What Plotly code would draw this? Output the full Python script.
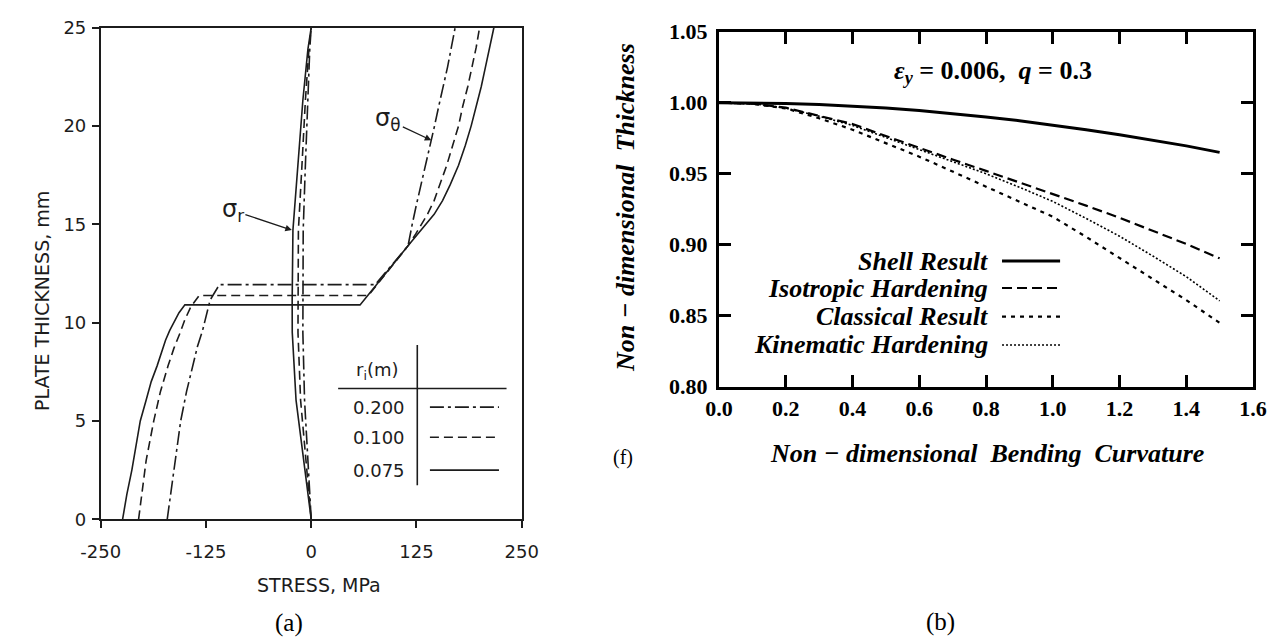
import plotly.graph_objects as go

# ---------------- Panel (a): stresses through plate thickness ----------------
radius_labels = ["0.200", "0.100", "0.075"]

# hoop stress sigma_theta (MPa) vs plate thickness (mm)
hoop_r200_stress = [-171, -167, -161, -155, -148, -141, -135, -129, -124, -120, -109,
                    76, 115, 117.5, 120, 125, 130.5, 136, 141, 146.5, 151.5, 157, 162, 166.5, 171]
hoop_r200_thick = [0, 1.3, 3.2, 5.0, 6.5, 7.77, 8.8, 9.6, 10.4, 11.15, 11.93,
                   11.93, 13.9, 14.5, 15, 16, 17, 18, 19, 20, 21, 22, 23, 24, 25]
hoop_r100_stress = [-205, -201, -196, -187, -179, -170, -163, -156, -150, -143, -133,
                    68, 115, 124, 131, 138, 146, 153, 161, 168, 175, 180, 186, 191, 196, 200]
hoop_r100_thick = [0, 1.3, 3.0, 5, 6.5, 7.8, 8.7, 9.45, 10.15, 10.8, 11.38,
                   11.38, 13.9, 14.5, 15, 15.5, 16.2, 17, 18, 19, 20, 21, 22, 23, 24, 25]
hoop_r075_stress = [-224, -219, -213, -208, -203, -196, -190, -183, -178, -173, -168, -163, -157, -150,
                    58, 115, 127, 137, 146, 156, 165, 175, 183, 190, 196, 202, 207, 212, 217]
hoop_r075_thick = [0, 1.25, 2.5, 3.75, 5, 6.06, 7, 7.8, 8.5, 9.1, 9.6, 10.0, 10.5, 10.9,
                   10.9, 13.9, 14.5, 15, 15.5, 16.2, 17, 18, 19, 20, 21, 22, 23, 24, 25]

# radial stress sigma_r (MPa) vs plate thickness (mm)
radial_thick = [0, 1.3, 2.66, 6.06, 9.5, 11.15, 14.7, 17.9, 21.3, 23.9, 25]
radial_r075 = [0, -3.9, -8, -18, -22.5, -22.6, -21.7, -15.8, -9.9, -3.9, 0]
radial_r100 = [0, -2.7, -5.6, -12.6, -15.7, -15.8, -15.2, -11.1, -6.9, -2.7, 0]
radial_r200 = [0, -1.7, -3.5, -7.9, -9.9, -9.9, -9.5, -7.0, -4.4, -1.7, 0]

stress_ticks = [-250, -125, 0, 125, 250]
stress_ticktext = ["-250", "-125", "0", "125", "250"]
thick_ticks = [0, 5, 10, 15, 20, 25]

# ---------------- Panel (b): thickness vs bending curvature ----------------
curvature = [0, 0.1, 0.2, 0.3, 0.4, 0.5, 0.6, 0.7, 0.8, 0.9, 1.0, 1.1, 1.2, 1.3, 1.4, 1.5]
shell_result = [1.000, 1.000, 0.9995, 0.9988, 0.9977, 0.9962, 0.9945, 0.9924, 0.9900,
                0.9873, 0.9843, 0.9810, 0.9775, 0.9737, 0.9696, 0.9650]
isotropic_hardening = [1.000, 0.9993, 0.9965, 0.991, 0.985, 0.9765, 0.968, 0.960, 0.952,
                       0.944, 0.936, 0.9275, 0.919, 0.910, 0.9005, 0.8904]
classical_result = [1.000, 0.9993, 0.996, 0.989, 0.981, 0.9715, 0.962, 0.9515, 0.941,
                    0.9305, 0.9197, 0.9055, 0.8906, 0.8755, 0.861, 0.845]
kinematic_hardening = [1.000, 0.9993, 0.9962, 0.9905, 0.984, 0.9755, 0.9665, 0.9585, 0.950,
                       0.9405, 0.9305, 0.9185, 0.906, 0.892, 0.8775, 0.8605]
legend_names = ["Shell Result", "Isotropic Hardening", "Classical Result", "Kinematic Hardening"]

INK = "#1c1c1c"
SANS = "DejaVu Sans"
SERIF = "Liberation Serif"
dash_r = {"0.200": "14px,4px,3px,4px", "0.100": "9px,5px", "0.075": "solid"}
dash_b = ["solid", "10px,5px", "4px,5px", "2px,2px"]
width_b = [3, 2.2, 2.2, 1.6]

# the page body adds an 8 px offset; the figure is sized to fill the rest of the window
W, H, OFF = 1279, 633, 8


def px(x):
    return (x - OFF) / W


def py(y):
    return 1 - (y - OFF) / H


fig = go.Figure()

hoop = {"0.200": (hoop_r200_stress, hoop_r200_thick),
        "0.100": (hoop_r100_stress, hoop_r100_thick),
        "0.075": (hoop_r075_stress, hoop_r075_thick)}
radial = {"0.200": radial_r200, "0.100": radial_r100, "0.075": radial_r075}
for r in radius_labels:
    xs, ys = hoop[r]
    fig.add_trace(go.Scatter(x=xs, y=ys, mode="lines", xaxis="x", yaxis="y",
                             line=dict(color=INK, width=1.6, dash=dash_r[r]), hoverinfo="skip"))
    fig.add_trace(go.Scatter(x=radial[r], y=radial_thick, mode="lines", xaxis="x", yaxis="y",
                             line=dict(color=INK, width=1.6, dash=dash_r[r]), hoverinfo="skip"))

series_b = [shell_result, isotropic_hardening, classical_result, kinematic_hardening]
for name, ys, d, w in zip(legend_names, series_b, dash_b, width_b):
    fig.add_trace(go.Scatter(x=curvature, y=ys, name=name, mode="lines", xaxis="x2", yaxis="y2",
                             line=dict(color="black", width=w, dash=d), hoverinfo="skip"))

annotations = []
shapes = []

# panel (a) labels
annotations.append(dict(x=142.6, y=19.27, ax=91.6, ay=20.3, xref="x", yref="y", axref="x", ayref="y",
                        text="σ<sub>θ</sub>", showarrow=True, arrowhead=2, arrowsize=1, arrowwidth=1.3,
                        arrowcolor=INK, font=dict(family=SANS, size=24, color=INK)))
annotations.append(dict(x=-23, y=14.7, ax=-93, ay=15.7, xref="x", yref="y", axref="x", ayref="y",
                        text="σ<sub>r</sub>", showarrow=True, arrowhead=2, arrowsize=1, arrowwidth=1.3,
                        arrowcolor=INK, font=dict(family=SANS, size=24, color=INK)))
# panel (a) key table
annotations.append(dict(x=79, y=7.55, xref="x", yref="y", text="r<sub>i</sub>(m)", showarrow=False,
                        xanchor="center", yanchor="middle",
                        font=dict(family=SANS, size=18, color=INK)))
shapes.append(dict(type="line", xref="x", yref="y", x0=32, x1=232, y0=6.65, y1=6.65,
                   line=dict(color=INK, width=1.6)))
shapes.append(dict(type="line", xref="x", yref="y", x0=126, x1=126, y0=1.73, y1=8.86,
                   line=dict(color=INK, width=1.6)))
row_y = [5.7, 4.17, 2.5]
for r, yy in zip(radius_labels, row_y):
    annotations.append(dict(x=80, y=yy, xref="x", yref="y", text=r, showarrow=False,
                            xanchor="center", yanchor="middle",
                            font=dict(family=SANS, size=18, color=INK)))
    shapes.append(dict(type="line", xref="x", yref="y", x0=141, x1=223, y0=yy, y1=yy,
                       line=dict(color=INK, width=1.6, dash=dash_r[r])))
annotations.append(dict(x=px(319), y=py(585), xref="paper", yref="paper", text="STRESS, MPa",
                        xanchor="center", yanchor="middle",
                        showarrow=False, font=dict(family=SANS, size=19, color=INK)))
annotations.append(dict(x=px(42), y=py(301), xref="paper", yref="paper", text="PLATE THICKNESS, mm",
                        xanchor="center", yanchor="middle",
                        textangle=-90, showarrow=False, font=dict(family=SANS, size=19, color=INK)))
annotations.append(dict(x=px(289), y=py(623), xref="paper", yref="paper", text="(a)",
                        xanchor="center", yanchor="middle",
                        showarrow=False, font=dict(family=SERIF, size=25, color="black")))

# panel (b) labels
annotations.append(dict(x=0.821, y=1.0218, xref="x2", yref="y2",
                        text="<b><i>ε<sub>y</sub></i> = 0.006,  <i>q</i> = 0.3</b>",
                        xanchor="center", yanchor="middle",
                        showarrow=False, font=dict(family=SERIF, size=26, color="black")))
legend_y = [0.8885, 0.8695, 0.8493, 0.8294]
for name, yy, d, w in zip(legend_names, legend_y, dash_b, width_b):
    annotations.append(dict(x=0.812, y=yy, xref="x2", yref="y2", xanchor="right", yanchor="middle",
                            text="<b><i>" + name + "</i></b>", showarrow=False,
                            font=dict(family=SERIF, size=26, color="black")))
    shapes.append(dict(type="line", xref="x2", yref="y2", x0=0.848, x1=1.022, y0=yy, y1=yy,
                       line=dict(color="black", width=w, dash=d)))
annotations.append(dict(x=px(987), y=py(453), xref="paper", yref="paper",
                        text="<b><i>Non − dimensional  Bending  Curvature</i></b>",
                        xanchor="center", yanchor="middle",
                        showarrow=False, font=dict(family=SERIF, size=26, color="black")))
annotations.append(dict(x=px(625), y=py(208), xref="paper", yref="paper",
                        text="<b><i>Non − dimensional  Thickness</i></b>", textangle=-90,
                        xanchor="center", yanchor="middle",
                        showarrow=False, font=dict(family=SERIF, size=26, color="black")))
annotations.append(dict(x=px(623), y=py(457), xref="paper", yref="paper", text="(f)",
                        xanchor="center", yanchor="middle",
                        showarrow=False, font=dict(family=SERIF, size=20, color="black")))
annotations.append(dict(x=px(940), y=py(622), xref="paper", yref="paper", text="(b)",
                        xanchor="center", yanchor="middle",
                        showarrow=False, font=dict(family=SERIF, size=25, color="black")))

fig.update_layout(
    template="none",
    width=W, height=H, autosize=False,
    margin=dict(l=0, r=0, t=0, b=0),
    paper_bgcolor="white", plot_bgcolor="white",
    showlegend=False,
    annotations=annotations,
    shapes=shapes,
    xaxis=dict(domain=[px(100.7), px(521.7)], anchor="y", range=[-250, 250], tickvals=stress_ticks,
               ticktext=stress_ticktext, ticks="outside", ticklen=7, tickwidth=1.5, tickcolor=INK,
               showline=True, linewidth=1.6, linecolor=INK, mirror=True, showgrid=False,
               zeroline=False, ticklabelstandoff=8,
               tickfont=dict(family=SANS, size=18, color=INK)),
    yaxis=dict(domain=[py(519.3), py(27.5)], anchor="x", range=[0, 25], tickvals=thick_ticks,
               ticks="outside", ticklen=7, tickwidth=1.5, tickcolor=INK,
               showline=True, linewidth=1.6, linecolor=INK, mirror=True, showgrid=False,
               zeroline=False, ticklabelstandoff=2,
               tickfont=dict(family=SANS, size=18, color=INK)),
    xaxis2=dict(domain=[px(719), px(1253)], anchor="y2", range=[0, 1.6], dtick=0.2, tick0=0,
                tickformat=".1f", ticks="inside", ticklen=12, tickwidth=3, tickcolor="black",
                showline=True, linewidth=3, linecolor="black", mirror="ticks", showgrid=False,
                zeroline=False, ticklabelstandoff=0,
                tickfont=dict(family=SERIF, size=22, color="black", weight="bold")),
    yaxis2=dict(domain=[py(386.7), py(31.7)], anchor="x2", range=[0.80, 1.05], dtick=0.05, tick0=0.8,
                tickformat=".2f", ticks="inside", ticklen=12, tickwidth=3, tickcolor="black",
                showline=True, linewidth=3, linecolor="black", mirror="ticks", showgrid=False,
                zeroline=False, ticklabelstandoff=4,
                tickfont=dict(family=SERIF, size=22, color="black", weight="bold")),
)

fig.write_html("out.html")
